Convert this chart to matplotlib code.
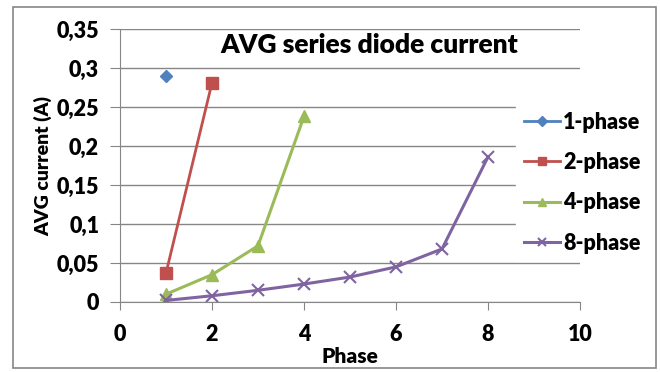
import matplotlib
matplotlib.use("Agg")
import matplotlib.pyplot as plt
from matplotlib.patches import Rectangle
from matplotlib.ticker import FuncFormatter

series_names = ["1-phase", "2-phase", "4-phase", "8-phase"]
x1 = [1]
y1 = [0.29]
x2 = [1, 2]
y2 = [0.037, 0.281]
x4 = [1, 2, 3, 4]
y4 = [0.010, 0.035, 0.072, 0.238]
x8 = [1, 2, 3, 4, 5, 6, 7, 8]
y8 = [0.002, 0.008, 0.015, 0.023, 0.032, 0.045, 0.068, 0.186]
x_ticks = [0, 2, 4, 6, 8, 10]
y_ticks = [0, 0.05, 0.1, 0.15, 0.2, 0.25, 0.3, 0.35]

plt.rcParams['font.family'] = ['Lato', 'DejaVu Sans']
plt.rcParams['font.weight'] = 'heavy'
plt.rcParams['axes.labelweight'] = 'heavy'

fig = plt.figure(figsize=(6.6, 3.72), dpi=100)
W, H = 660, 372
ax = fig.add_axes([120 / W, 1 - 302 / H, (580 - 120) / W, (302 - 29) / H])

colors = ["#4F81BD", "#C0504D", "#9BBB59", "#8064A2"]
ax.plot(x1, y1, marker="D", color=colors[0], lw=2, ms=6, label=series_names[0])
ax.plot(x2, y2, marker="s", color=colors[1], lw=2, ms=8, label=series_names[1])
ax.plot(x4, y4, marker="^", color=colors[2], lw=2.2, ms=8, label=series_names[2])
ax.plot(x8, y8, marker="x", color=colors[3], lw=2.2, ms=8, mew=1.5, label=series_names[3])

ax.set_xlim(0, 10)
ax.set_ylim(0, 0.35)
ax.set_xticks(x_ticks)
ax.set_yticks(y_ticks)
ax.yaxis.set_major_formatter(FuncFormatter(lambda v, p: ("%g" % round(v, 2)).replace(".", ",")))
ax.grid(axis="y", color="#868686", lw=1)
ax.set_axisbelow(True)
for s in ["top", "right"]:
    ax.spines[s].set_visible(False)
for s in ["left", "bottom"]:
    ax.spines[s].set_color("#868686")
ax.tick_params(axis="x", direction="out", length=6, color="#868686", labelsize=15.5, pad=10)
ax.tick_params(axis="y", direction="out", length=7, color="#868686", labelsize=15.5, pad=8)
ax.set_xlabel("Phase", fontsize=15, labelpad=1)
ax.set_ylabel("AVG current (A)", fontsize=14, labelpad=3)
ax.text((369 - 120) / 460, (302 - 45) / 273, "AVG series diode current", transform=ax.transAxes,
        ha="center", va="center", fontsize=19)

leg = ax.legend(loc="upper left", bbox_to_anchor=(516 / W, 1 - 104 / H),
                bbox_transform=fig.transFigure, frameon=True, framealpha=1,
                edgecolor="white", fancybox=False, fontsize=15.5, handlelength=1.7,
                labelspacing=0.9, borderpad=0.35, handletextpad=0.15, borderaxespad=0,
                markerscale=0.8)

fig.patches.append(Rectangle((13 / W, 1 - 368 / H), (656 - 13) / W, (368 - 7) / H,
                             transform=fig.transFigure, fill=False,
                             edgecolor="#868686", lw=1.2))
fig.savefig("out.png", dpi=100)
